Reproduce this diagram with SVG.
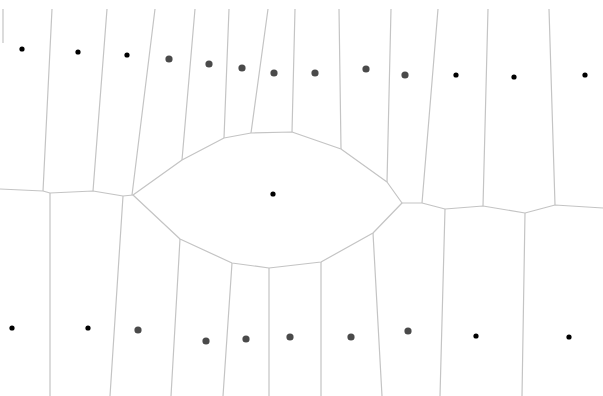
<svg xmlns="http://www.w3.org/2000/svg" width="603" height="396" viewBox="0 0 603 396">
<style>
.e{fill:none;stroke:#c4c4c4;stroke-width:1.2;stroke-linejoin:round}
.b{fill:#000}
.g{fill:#4a4a4a}
</style>
<rect width="603" height="396" fill="#fff"/>
<g id="connectors">
<path class="e" d="M3,9V43"/>
<path class="e" d="M52,9L43,191M107,9L93,191M155,9L132,195M195,9L182,160M229,9L224,138M268,9L251,133M295,9L292,132M339,9L341,149M391,9L387,182M438,9L422,203M488,9L483,206M549,9L555,205"/>
<path class="e" d="M133,195L182,160L224,138L251,133L292,132L341,149L387,182L402,203L373,233L321,262L269,268L232,263L180,239Z"/>
<path class="e" d="M0,189L43,191L50,193L93,191L123,196L133,195"/>
<path class="e" d="M402,203L422,203L445,209L483,206L525,213L555,205L603,208"/>
<path class="e" d="M50,193L50,396M123,196L110,396M180,239L171,396M232,263L223,396M269,268L269,396M321,262L321,396M373,233L382,396M445,209L440,396M525,213L522,396"/>
</g>
<g id="sites">
<circle class="b" cx="22" cy="49" r="2.6"/>
<circle class="b" cx="78" cy="52" r="2.6"/>
<circle class="b" cx="127" cy="55" r="2.6"/>
<circle class="g" cx="169" cy="59" r="3.6"/>
<circle class="g" cx="209" cy="64" r="3.6"/>
<circle class="g" cx="242" cy="68" r="3.6"/>
<circle class="g" cx="274" cy="73" r="3.6"/>
<circle class="g" cx="315" cy="73" r="3.6"/>
<circle class="g" cx="366" cy="69" r="3.6"/>
<circle class="g" cx="405" cy="75" r="3.6"/>
<circle class="b" cx="456" cy="75" r="2.6"/>
<circle class="b" cx="514" cy="77" r="2.6"/>
<circle class="b" cx="585" cy="75" r="2.6"/>
<circle class="b" cx="273" cy="194" r="2.6"/>
<circle class="b" cx="12" cy="328" r="2.6"/>
<circle class="b" cx="88" cy="328" r="2.6"/>
<circle class="g" cx="138" cy="330" r="3.6"/>
<circle class="g" cx="206" cy="341" r="3.6"/>
<circle class="g" cx="246" cy="339" r="3.6"/>
<circle class="g" cx="290" cy="337" r="3.6"/>
<circle class="g" cx="351" cy="337" r="3.6"/>
<circle class="g" cx="408" cy="331" r="3.6"/>
<circle class="b" cx="476" cy="336" r="2.6"/>
<circle class="b" cx="569" cy="337" r="2.6"/>
</g>
</svg>
